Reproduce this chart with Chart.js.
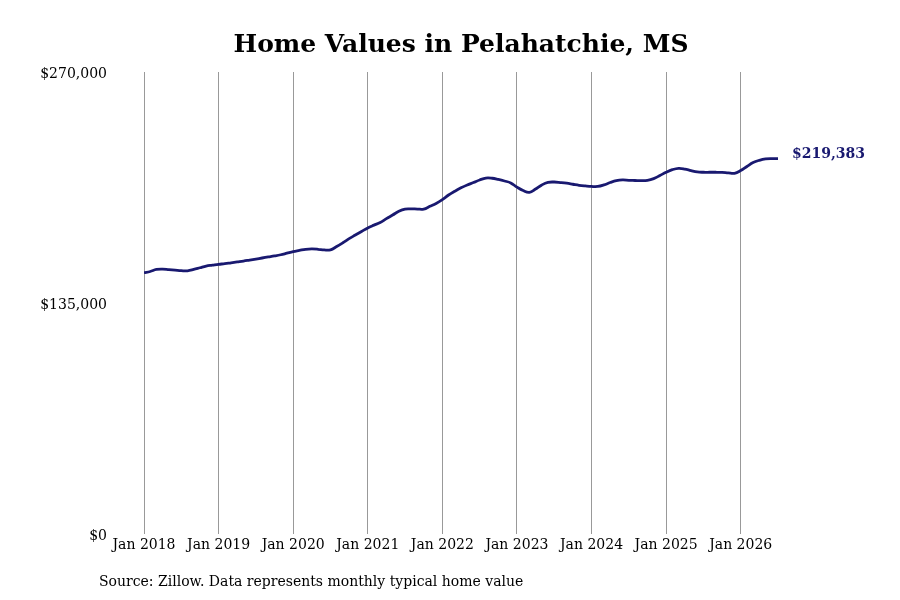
<!DOCTYPE html>
<html>
<head>
<meta charset="utf-8">
<script src="https://cdn.jsdelivr.net/npm/chart.js@4.4.1/dist/chart.umd.min.js"></script>
<style>
html,body{margin:0;padding:0;background:#fff;}
#wrap{width:900px;height:600px;position:relative;}
</style>
</head>
<body>
<div id="wrap"><canvas id="c" width="900" height="600"></canvas></div>
<script>
const startYear = 2018;
const tickLabels = ["Jan 2018","Jan 2019","Jan 2020","Jan 2021","Jan 2022","Jan 2023","Jan 2024","Jan 2025","Jan 2026"];
const yTicks = [0, 135000, 270000];
const values = [
152700,153400,154600,154800,154500,154200,153900,153800,154600,155600,156600,157100,
157600,158000,158500,159000,159500,160100,160700,161300,161900,162500,163200,164100,
165000,165700,166400,166600,166400,166000,166100,168000,170200,172600,174700,176800,
178900,180500,182000,184300,186400,188600,189900,190000,189900,189900,191500,193200,
195400,198100,200300,202300,204000,205400,206900,208000,207900,207200,206300,205200,
202700,200700,199700,201600,204000,205500,205700,205400,205000,204400,203800,203400,
203100,203100,204000,205400,206500,206900,206700,206600,206500,206700,207700,209500,
211400,212900,213700,213300,212400,211600,211400,211400,211400,211300,211000,210800,
212400,214800,217100,218400,219200,219400,219383
];
const title = "Home Values in Pelahatchie, MS";
const source = "Source: Zillow. Data represents monthly typical home value";
const lineColor = "#191970";
const FONT = "'DejaVu Serif', serif";

const points = values.map((v, i) => ({x: i, y: v}));

const textPlugin = {
  id: 'texts',
  afterDraw(chart) {
    const ctx = chart.ctx;
    const ca = chart.chartArea;
    ctx.save();
    ctx.fillStyle = '#000';
    ctx.font = "bold 25px " + FONT;
    ctx.textAlign = 'center';
    ctx.textBaseline = 'middle';
    ctx.fillText(title, (ca.left + ca.right) / 2, 45);
    ctx.font = "14px " + FONT;
    ctx.textAlign = 'left';
    ctx.fillText(source, 99, 582);
    const meta = chart.getDatasetMeta(0);
    const last = meta.data[meta.data.length - 1];
    const lastVal = values[values.length - 1];
    ctx.fillStyle = lineColor;
    ctx.font = "bold 14px " + FONT;
    ctx.textAlign = 'left';
    ctx.fillText('$' + lastVal.toLocaleString('en-US'), last.x + 14, last.y - 4);
    ctx.restore();
  }
};

new Chart(document.getElementById('c'), {
  type: 'line',
  data: {
    datasets: [{
      data: points,
      borderColor: lineColor,
      borderWidth: 2.8,
      pointRadius: 0,
      tension: 0.4,
      fill: false
    }]
  },
  options: {
    responsive: false,
    animation: false,
    devicePixelRatio: 1,
    layout: {padding: {top: 72, right: 122, bottom: 0, left: 0}},
    plugins: {legend: {display: false}, tooltip: {enabled: false}, title: {display: false}},
    scales: {
      x: {
        type: 'linear',
        min: 0,
        max: values.length - 1,
        afterFit(s) { s.height = 66; },
        afterBuildTicks(s) { s.ticks = tickLabels.map((t, i) => ({value: i * 12})); },
        ticks: {
          callback: (v) => tickLabels[Math.round(v / 12)] || '',
          font: {family: FONT, size: 14},
          color: '#000',
          padding: 3,
          maxRotation: 0,
          autoSkip: false
        },
        grid: {color: '#999', lineWidth: 1, drawTicks: false},
        border: {display: false}
      },
      y: {
        min: 0,
        max: 270000,
        afterFit(s) { s.width = 144; },
        afterBuildTicks(s) { s.ticks = yTicks.map(v => ({value: v})); },
        ticks: {
          callback: (v) => '$' + Number(v).toLocaleString('en-US'),
          font: {family: FONT, size: 14},
          color: '#000',
          padding: 37,
          labelOffset: 2
        },
        grid: {display: false, drawTicks: false},
        border: {display: false}
      }
    }
  },
  plugins: [textPlugin]
});
</script>
</body>
</html>
